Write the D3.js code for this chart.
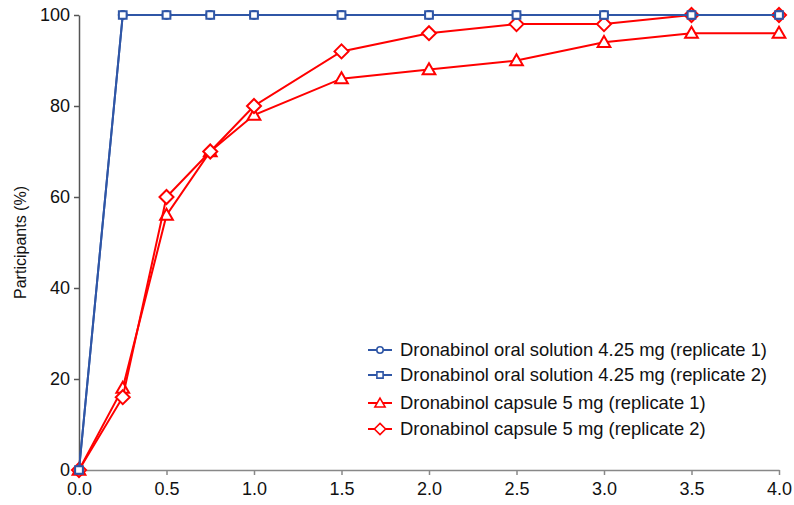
<!DOCTYPE html>
<html>
<head>
<meta charset="utf-8">
<script src="https://cdn.jsdelivr.net/npm/d3@7"></script>
<style>
  body { margin: 0; background: #fff; }
  svg text { font-family: "Liberation Sans", Arial, sans-serif; fill: #111; }
</style>
</head>
<body>
<svg width="794" height="505"></svg>
<script>
// time points (h) and cumulative participants (%)
var times = [0, 0.25, 0.5, 0.75, 1.0, 1.5, 2.0, 2.5, 3.0, 3.5, 4.0];
var solutionRep1 = [0, 100, 100, 100, 100, 100, 100, 100, 100, 100, 100];
var solutionRep2 = [0, 100, 100, 100, 100, 100, 100, 100, 100, 100, 100];
var capsuleRep1 = [0, 18, 56, 70, 78, 86, 88, 90, 94, 96, 96];
var capsuleRep2 = [0, 16, 60, 70, 80, 92, 96, 98, 98, 100, 100];
var xTicks = [0, 0.5, 1, 1.5, 2, 2.5, 3, 3.5, 4];
var yTicks = [0, 20, 40, 60, 80, 100];

var blue = "#2f56a6";
var red = "#ff0000";

var series = [
  { name: "Dronabinol oral solution 4.25 mg (replicate 1)", values: solutionRep1, color: blue, symbol: "circle" },
  { name: "Dronabinol oral solution 4.25 mg (replicate 2)", values: solutionRep2, color: blue, symbol: "square" },
  { name: "Dronabinol capsule 5 mg (replicate 1)", values: capsuleRep1, color: red, symbol: "triangle" },
  { name: "Dronabinol capsule 5 mg (replicate 2)", values: capsuleRep2, color: red, symbol: "diamond" }
];

var svg = d3.select("svg");
var padding = { t: 15, r: 15, b: 35, l: 79 };
var width = 794, height = 505;

var xScale = d3.scaleLinear().domain([0, 4]).range([padding.l, width - padding.r]);
var yScale = d3.scaleLinear().domain([0, 100]).range([height - padding.b, padding.t]);

// axes
var xAxis = svg.append("g")
  .attr("transform", "translate(0," + yScale(0) + ")")
  .call(d3.axisBottom(xScale).tickValues(xTicks).tickFormat(d3.format(".1f")).tickSize(5).tickSizeOuter(0));
xAxis.select(".domain").attr("stroke", "#888").attr("stroke-width", 1.5);
xAxis.selectAll(".tick line").attr("stroke", "#888").attr("stroke-width", 1.5);
xAxis.selectAll("text").attr("font-size", 18).attr("y", 10).attr("dy", "0.85em");

var yAxis = svg.append("g")
  .attr("transform", "translate(" + xScale(0) + ",0)")
  .call(d3.axisLeft(yScale).tickValues(yTicks).tickSize(5).tickSizeOuter(0));
yAxis.select(".domain").attr("stroke", "#555").attr("stroke-width", 1.5);
yAxis.selectAll(".tick line").attr("stroke", "#555").attr("stroke-width", 1.5);
yAxis.selectAll("text").attr("font-size", 18).attr("x", -9);

svg.append("text")
  .attr("transform", "translate(26," + yScale(50) + ") rotate(-90)")
  .attr("text-anchor", "middle")
  .attr("font-size", 16)
  .text("Participants (%)");

// marker shapes
function symbolPath(symbol) {
  if (symbol === "circle") return d3.symbol().type(d3.symbolCircle).size(50)();
  if (symbol === "square") return d3.symbol().type(d3.symbolSquare).size(60)();
  if (symbol === "triangle") return d3.symbol().type(d3.symbolTriangle).size(70)();
  return "M0,-7L7,0L0,7L-7,0Z";
}

var line = d3.line()
  .x(function (d, i) { return xScale(times[i]); })
  .y(function (d) { return yScale(d); });

// red series drawn first, blue on top
var drawOrder = [series[2], series[3], series[0], series[1]];
drawOrder.forEach(function (s) {
  var g = svg.append("g");
  g.append("path")
    .attr("d", line(s.values))
    .attr("fill", "none")
    .attr("stroke", s.color)
    .attr("stroke-width", 2);
  g.selectAll("path.marker")
    .data(s.values)
    .enter()
    .append("path")
    .attr("class", "marker")
    .attr("d", symbolPath(s.symbol))
    .attr("transform", function (d, i) {
      var dy = s.symbol === "triangle" ? 1 : 0;
      return "translate(" + xScale(times[i]) + "," + (yScale(d) + dy) + ")";
    })
    .attr("fill", "#fff")
    .attr("stroke", s.color)
    .attr("stroke-width", 2);
});

// legend
var legendY = [350, 375, 403, 429];
var legend = svg.append("g");
series.forEach(function (s, i) {
  var row = legend.append("g").attr("transform", "translate(368," + legendY[i] + ")");
  row.append("line")
    .attr("x1", 0).attr("x2", 24)
    .attr("stroke", s.color).attr("stroke-width", 2);
  row.append("path")
    .attr("d", symbolPath(s.symbol))
    .attr("transform", "translate(12," + (s.symbol === "triangle" ? 1 : 0) + ") scale(0.8)")
    .attr("fill", "#fff")
    .attr("stroke", s.color)
    .attr("stroke-width", 2);
  row.append("text")
    .attr("x", 32)
    .attr("dy", "0.35em")
    .attr("font-size", 18.4)
    .text(s.name);
});
</script>
</body>
</html>
